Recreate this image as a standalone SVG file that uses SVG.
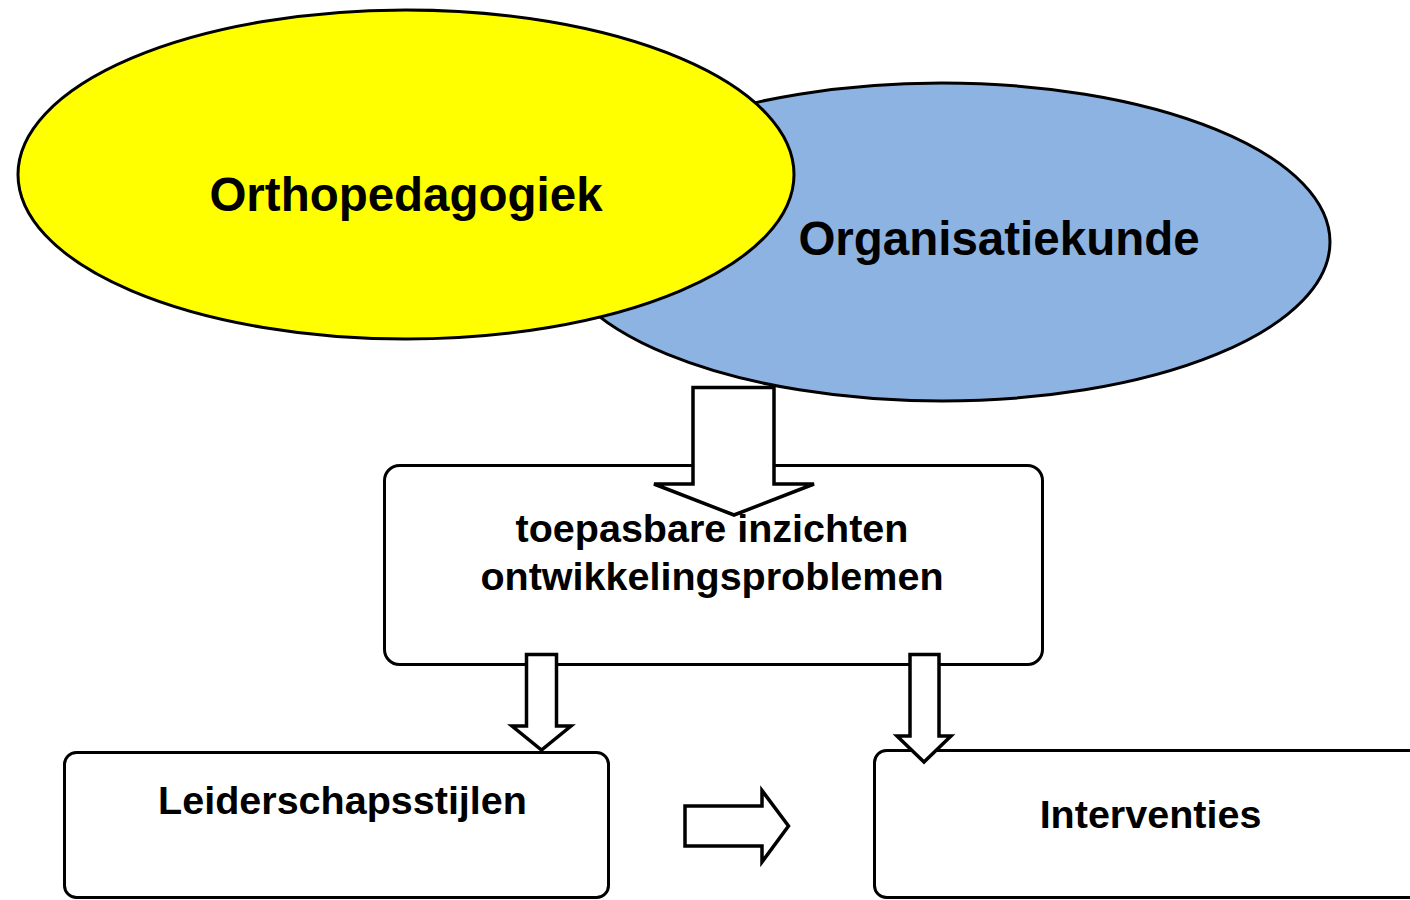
<svg xmlns="http://www.w3.org/2000/svg" width="1410" height="900" viewBox="0 0 1410 900">
<style>
.ln{stroke:#000;stroke-width:3;stroke-linejoin:round}
.box{fill:#fff;stroke:#000;stroke-width:3}
.arr{fill:#fff;stroke:#000;stroke-width:3.5;stroke-linejoin:miter}
text{font-family:"Liberation Sans",Arial,Helvetica,sans-serif;font-weight:bold;fill:#000;text-anchor:middle}
.big{font-size:47.5px}
.mid{font-size:39.5px}
</style>
<rect width="1410" height="900" fill="#fff"/>
<g id="organisatiekunde">
<ellipse cx="942" cy="242" rx="388" ry="159" fill="#8db3e2" class="ln"/>
<text class="big" x="999" y="255">Organisatiekunde</text>
</g>
<g id="orthopedagogiek">
<ellipse cx="406" cy="174.5" rx="388" ry="164.5" fill="#ffff00" class="ln"/>
<text class="big" x="406" y="211">Orthopedagogiek</text>
</g>
<g id="inzichten">
<rect class="box" x="384.5" y="465.5" width="658" height="199" rx="15"/>
<text class="mid" x="712" y="542">toepasbare inzichten</text>
<text class="mid" x="712" y="590">ontwikkelingsproblemen</text>
</g>
<g id="leiderschapsstijlen">
<rect class="box" x="64.5" y="752.5" width="544" height="145" rx="12"/>
<text class="mid" x="342.5" y="814">Leiderschapsstijlen</text>
</g>
<g id="interventies">
<rect class="box" x="874.5" y="750.5" width="600" height="147" rx="12"/>
<text class="mid" x="1150.5" y="828">Interventies</text>
</g>
<g id="connectors">
<polygon class="arr" points="693,387.5 774,387.5 774,484 814,484 734,515 654,484 693,484"/>
<polygon class="arr" points="526.5,654.5 556.5,654.5 556.5,726 571,726 541.5,750 512,726 526.5,726"/>
<polygon class="arr" points="910,654.5 939,654.5 939,736 951,736 924,762 897,736 910,736"/>
<polygon class="arr" points="685,806 762,806 762,790.5 788.5,826 762,862 762,846 685,846"/>
</g>
</svg>
